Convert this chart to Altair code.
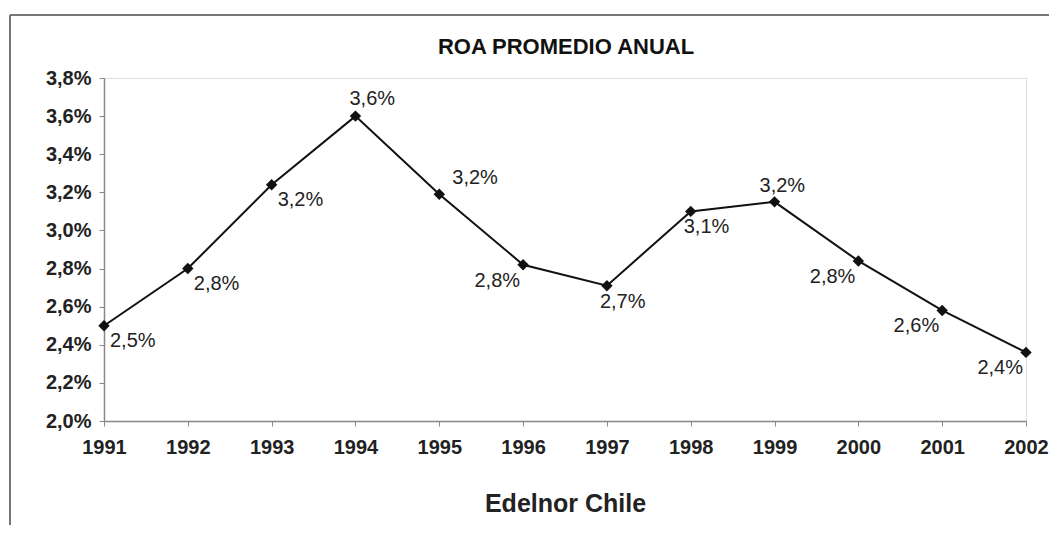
import altair as alt
import pandas as pd

# ---- data ----
years = [1991, 1992, 1993, 1994, 1995, 1996, 1997, 1998, 1999, 2000, 2001, 2002]
roa = [2.50, 2.80, 3.24, 3.60, 3.19, 2.82, 2.71, 3.10, 3.15, 2.84, 2.58, 2.36]
labels = ["2,5%", "2,8%", "3,2%", "3,6%", "3,2%", "2,8%", "2,7%", "3,1%", "3,2%", "2,8%", "2,6%", "2,4%"]
y_ticks = [2.0, 2.2, 2.4, 2.6, 2.8, 3.0, 3.2, 3.4, 3.6, 3.8]

TITLE = "ROA PROMEDIO ANUAL"
X_TITLE = "Edelnor Chile"

# label placement (style, not data)
placement = {
    1991: "br", 1992: "br", 1993: "br", 1994: "ab", 1995: "ar", 1996: "bl",
    1997: "bw", 1998: "bw", 1999: "al", 2000: "bl", 2001: "bl", 2002: "bl",
}
place_style = {
    "br": dict(align="left", dx=6, dy=15),
    "ab": dict(align="left", dx=-6, dy=-17),
    "ar": dict(align="left", dx=13, dy=-16),
    "al": dict(align="left", dx=-15, dy=-16),
    "bw": dict(align="left", dx=-7, dy=16),
    "bl": dict(align="right", dx=-3, dy=16),
}

df = pd.DataFrame({"year": years, "roa": roa, "label": labels,
                   "pos": [placement[y] for y in years]})

FONT = "Liberation Sans"
W, H = 922, 343

x = alt.X("year:Q",
          scale=alt.Scale(domain=[1991, 2002], nice=False, zero=False),
          axis=alt.Axis(values=years, format="d", title=X_TITLE, grid=False,
                        labelFont=FONT, labelFontSize=20, labelFontWeight="bold",
                        labelColor="#222", labelPadding=11, tickSize=5,
                        tickColor="#888", domainColor="#888", domainWidth=1.5,
                        titleFont=FONT, titleFontSize=25, titleFontWeight="bold",
                        titleColor="#222", titlePadding=34, labelFlush=False))
y = alt.Y("roa:Q",
          scale=alt.Scale(domain=[2.0, 3.8], nice=False, zero=False),
          axis=alt.Axis(values=y_ticks, grid=False, title=None,
                        labelExpr="replace(format(datum.value, '.1f'), '.', ',') + '%'",
                        labelFont=FONT, labelFontSize=20, labelFontWeight="bold",
                        labelColor="#222", labelPadding=8, tickSize=5,
                        tickColor="#888", domainColor="#888", domainWidth=1.5))

base = alt.Chart(df)

line = base.mark_line(color="#111", strokeWidth=2).encode(x=x, y=y)
pts = base.mark_point(shape="diamond", filled=True, color="#111", size=130, opacity=1).encode(x=x, y=y)

texts = []
for key, st in place_style.items():
    texts.append(
        base.transform_filter(alt.datum.pos == key)
        .mark_text(font=FONT, fontSize=20, color="#222", baseline="middle", **st)
        .encode(x=x, y=y, text="label:N")
    )

title = alt.Chart(pd.DataFrame({"t": [TITLE]})).mark_text(
    font=FONT, fontSize=22, fontWeight="bold", color="#111",
    align="center", baseline="middle"
).encode(text="t:N", x=alt.value(462), y=alt.value(-31))

frame_left = base.mark_rule(color="#777", strokeWidth=2).encode(
    x=alt.value(-94), y=alt.value(-63), y2=alt.value(H + 120))
frame_top = base.mark_rule(color="#777", strokeWidth=2).encode(
    x=alt.value(-94), x2=alt.value(W + 30), y=alt.value(-63))

chart = alt.layer(frame_left, frame_top, line, pts, *texts, title).properties(
    width=W, height=H,
    autosize=alt.AutoSizeParams(type="none"),
    padding={"left": 96, "top": 70, "right": 23, "bottom": 104},
).configure_view(stroke="#888", strokeWidth=1.5).configure(background="white")

chart.save("out.html", embed_options={"renderer": "svg", "actions": False})
